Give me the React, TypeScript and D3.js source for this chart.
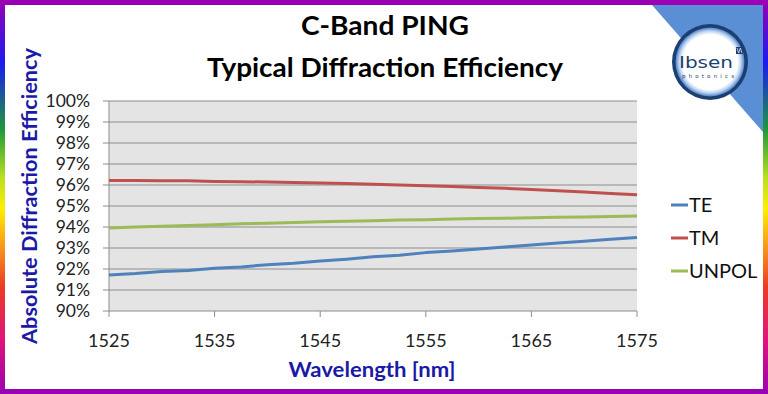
import React from 'react';
import * as d3 from 'd3';

const wavelengths = [1525, 1527.5, 1530, 1532.5, 1535, 1537.5, 1540, 1542.5, 1545, 1547.5, 1550,
  1552.5, 1555, 1557.5, 1560, 1562.5, 1565, 1567.5, 1570, 1572.5, 1575];
const te = [91.71, 91.78, 91.88, 91.93, 92.03, 92.1, 92.2, 92.27, 92.38, 92.47, 92.58,
  92.66, 92.78, 92.86, 92.95, 93.05, 93.14, 93.24, 93.32, 93.42, 93.5];
const tm = [96.22, 96.22, 96.2, 96.2, 96.17, 96.16, 96.14, 96.12, 96.09, 96.07, 96.03,
  96.0, 95.97, 95.93, 95.88, 95.84, 95.78, 95.73, 95.67, 95.6, 95.53];
const unpol = [93.95, 94.0, 94.04, 94.07, 94.11, 94.15, 94.18, 94.21, 94.25, 94.27, 94.3,
  94.33, 94.35, 94.38, 94.4, 94.42, 94.44, 94.46, 94.48, 94.5, 94.52];
const xTicks = [1525, 1535, 1545, 1555, 1565, 1575];
const yTicks = [90, 91, 92, 93, 94, 95, 96, 97, 98, 99, 100];

const series = [
  { name: 'TE', values: te, color: '#4f81bd' },
  { name: 'TM', values: tm, color: '#c0504d' },
  { name: 'UNPOL', values: unpol, color: '#9bbb59' },
];

const W = 768;
const H = 394;
const font = 'Lato, "Open Sans", sans-serif';

export default function App() {
  const x = d3.scaleLinear().domain([1525, 1575]).range([109, 637]);
  const y = d3.scaleLinear().domain([90, 100]).range([311, 101]);

  const line = (vals: number[]) =>
    d3.line<number>()
      .x((_, i) => x(wavelengths[i]))
      .y(d => y(d))(vals) || '';

  const rainbow = [
    ['0%', '#9a00b4'],
    ['16%', '#1b1bf0'],
    ['33%', '#1f9a3a'],
    ['45%', '#b8e020'],
    ['53%', '#ffee00'],
    ['63%', '#f7941d'],
    ['73%', '#ec3a24'],
    ['86%', '#e0157a'],
    ['100%', '#9a00b4'],
  ];

  return (
    <svg width={W} height={H} style={{ position: 'absolute', left: 0, top: 0, background: '#fff' }}>
      <defs>
        <linearGradient id="rb" x1="0" y1="0" x2="0" y2="1">
          {rainbow.map(([o, c]) => <stop key={o} offset={o} stopColor={c} />)}
        </linearGradient>
        <radialGradient id="ring" cx="0.5" cy="0.5" r="0.5">
          <stop offset="80%" stopColor="#ffffff" />
          <stop offset="90%" stopColor="#b9d2f0" />
          <stop offset="100%" stopColor="#4f7fc4" />
        </radialGradient>
      </defs>

      {/* frame */}
      <rect x={0} y={0} width={W} height={H} fill="url(#rb)" />
      <rect x={0} y={0} width={W} height={5} fill="#9a00b4" />
      <rect x={0} y={H - 5} width={W} height={5} fill="#9a00b4" />
      <rect x={5} y={5} width={W - 10} height={H - 10} fill="#fff" />

      {/* logo */}
      <polygon points={`652,5 763,5 763,132`} fill="#5a8ed5" />
      <circle cx={710} cy={62} r={38} fill="#1c3f72" />
      <circle cx={710} cy={62} r={34.5} fill="url(#ring)" />
      <text x={706} y={68} textAnchor="middle" fontFamily='"DejaVu Sans", sans-serif' fontSize={16}
        fill="#1c3f72" textLength={54} lengthAdjust="spacingAndGlyphs">Ibsen</text>
      <text x={708} y={77.5} textAnchor="middle" fontFamily='"DejaVu Sans", sans-serif' fontSize={5.5}
        fill="#1c3f72" textLength={52} lengthAdjust="spacing">photonics</text>
      <rect x={736} y={47} width={7} height={7} fill="#1c3f72" />
      <path d="M737,48 L738.7,53 L740.3,48 M740.3,48 L742,53" stroke="#fff" strokeWidth={0.7} fill="none" />

      {/* titles */}
      <text x={385} y={35} textAnchor="middle" fontFamily={font} fontWeight="bold" fontSize={27}
        fill="#000" textLength={168} lengthAdjust="spacingAndGlyphs">C-Band PING</text>
      <text x={385} y={77} textAnchor="middle" fontFamily={font} fontWeight="bold" fontSize={27}
        fill="#000" textLength={356} lengthAdjust="spacingAndGlyphs">Typical Diffraction Efficiency</text>

      {/* plot area */}
      <rect x={x(1525)} y={y(100)} width={x(1575) - x(1525)} height={y(90) - y(100)} fill="#e4e4e4" />
      {yTicks.map(t => (
        <g key={t}>
          <line x1={103} x2={x(1575)} y1={y(t)} y2={y(t)} stroke="#8c8c8c" strokeWidth={1} />
          <text x={90} y={y(t) + 6} textAnchor="end" fontFamily={font} fontSize={17.5} fill="#222">{t}%</text>
        </g>
      ))}
      <line x1={x(1525)} x2={x(1525)} y1={y(100)} y2={y(90)} stroke="#8c8c8c" />
      {xTicks.map(t => (
        <g key={t}>
          <line x1={x(t)} x2={x(t)} y1={y(90)} y2={y(90) + 6} stroke="#8c8c8c" />
          <text x={x(t)} y={347} textAnchor="middle" fontFamily={font} fontSize={18} fill="#222">{t}</text>
        </g>
      ))}

      {series.map(s => (
        <path key={s.name} d={line(s.values)} fill="none" stroke={s.color} strokeWidth={3}
          strokeLinejoin="round" />
      ))}

      {/* legend */}
      {series.map((s, i) => (
        <g key={s.name} transform={`translate(0, ${205 + i * 33})`}>
          <line x1={671} x2={688} y1={0} y2={0} stroke={s.color} strokeWidth={3} />
          <text x={689} y={7} fontFamily={font} fontSize={20} fill="#111">{s.name}</text>
        </g>
      ))}

      {/* axis titles */}
      <text transform="translate(37, 196) rotate(-90)" textAnchor="middle" fontFamily={font}
        fontWeight="bold" fontSize={20} fill="#1a1aa6" textLength={296}
        lengthAdjust="spacingAndGlyphs">Absolute Diffraction Efficiency</text>
      <text x={372} y={377} textAnchor="middle" fontFamily={font} fontWeight="bold" fontSize={20}
        fill="#1a1aa6" textLength={167} lengthAdjust="spacingAndGlyphs">Wavelength [nm]</text>
    </svg>
  );
}
